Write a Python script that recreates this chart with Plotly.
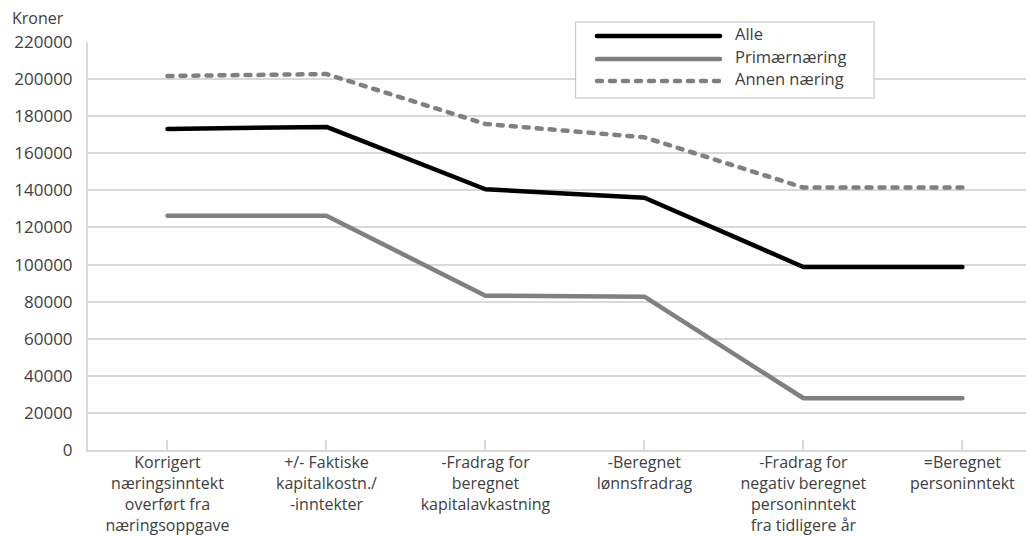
import plotly.graph_objects as go

# Steps in the calculation of personal income (kroner)
categories = [
    "Korrigert<br>næringsinntekt<br>overført fra<br>næringsoppgave",
    "+/- Faktiske<br>kapitalkostn./<br>-inntekter",
    "-Fradrag for<br>beregnet<br>kapitalavkastning",
    "-Beregnet<br>lønnsfradrag",
    "-Fradrag for<br>negativ beregnet<br>personinntekt<br>fra tidligere år",
    "=Beregnet<br>personinntekt",
]
alle = [173100, 174200, 140600, 136000, 98700, 98700]
primaer = [126300, 126300, 83200, 82700, 27900, 27900]
annen = [201700, 202700, 175800, 168600, 141500, 141500]

series_names = ["Alle", "Primærnæring", "Annen næring"]
y_ticks = list(range(0, 220001, 20000))

FONT = "Open Sans, Segoe UI, sans-serif"
TEXT = "#404040"
GRID = "#d9d9d9"
GREY = "#808080"

styles = [
    dict(color="#000000", width=4.5, dash="solid"),
    dict(color=GREY, width=4.5, dash="solid"),
    dict(color=GREY, width=4.5, dash="5px,8px"),
]

x_idx = list(range(len(categories)))
fig = go.Figure()
for name, values, st in zip(series_names, [alle, primaer, annen], styles):
    fig.add_trace(go.Scatter(
        x=x_idx, y=values, mode="lines", name=name,
        line=st, showlegend=False, hoverinfo="y",
    ))

# Legend box drawn in paper coordinates
shapes = [dict(type="rect", xref="paper", yref="paper",
               x0=0.5203, x1=0.838, y0=0.8627, y1=1.049,
               fillcolor="white", line=dict(color="#bfbfbf", width=1), layer="above")]
annotations = []
row_y = [1.0147, 0.9583, 0.9044]
for name, st, ry in zip(series_names, styles, row_y):
    shapes.append(dict(type="line", xref="paper", yref="paper",
                       x0=0.5426, x1=0.6738, y0=ry, y1=ry,
                       line=dict(color=st["color"], width=st["width"], dash=st["dash"]),
                       layer="above"))
    annotations.append(dict(text=name, xref="paper", yref="paper",
                            x=0.6876, y=ry + 0.006, xanchor="left", yanchor="middle",
                            showarrow=False, font=dict(family=FONT, size=16.5, color=TEXT)))

annotations.append(dict(text="Kroner", xref="paper", yref="paper",
                        x=-0.0832, y=1.0588, xanchor="left", yanchor="middle",
                        showarrow=False, font=dict(family=FONT, size=16, color=TEXT)))

fig.update_layout(
    width=1026, height=537,
    margin=dict(l=88, r=0, t=42, b=87),
    paper_bgcolor="white", plot_bgcolor="white",
    font=dict(family=FONT, size=16, color=TEXT),
    shapes=shapes, annotations=annotations,
    showlegend=False,
)
fig.update_xaxes(
    range=[-0.5, 5.4], tickmode="array", tickvals=x_idx, ticktext=categories,
    showgrid=False, showline=True, linecolor=GRID, linewidth=2,
    ticks="inside", ticklen=10, tickcolor=GRID, tickwidth=2,
    tickfont=dict(family=FONT, size=16, color=TEXT), tickangle=0,
    ticklabelstandoff=-3, zeroline=False, automargin=False,
)
fig.update_yaxes(
    range=[0, 220000], tickmode="array", tickvals=y_ticks,
    ticktext=[str(v) for v in y_ticks],
    showgrid=True, gridcolor=GRID, gridwidth=2,
    showline=True, linecolor=GRID, linewidth=2,
    zeroline=False, ticks="", ticklabelstandoff=10,
    tickfont=dict(family=FONT, size=17, color=TEXT), automargin=False,
)

round_caps = """
document.querySelectorAll('.scatterlayer path.js-line, .layer-above .shapelayer path').forEach(function(p){
  p.style.strokeLinecap = 'round';
  p.style.strokeLinejoin = 'round';
});
"""
fig.write_html("out.html", post_script=round_caps)
